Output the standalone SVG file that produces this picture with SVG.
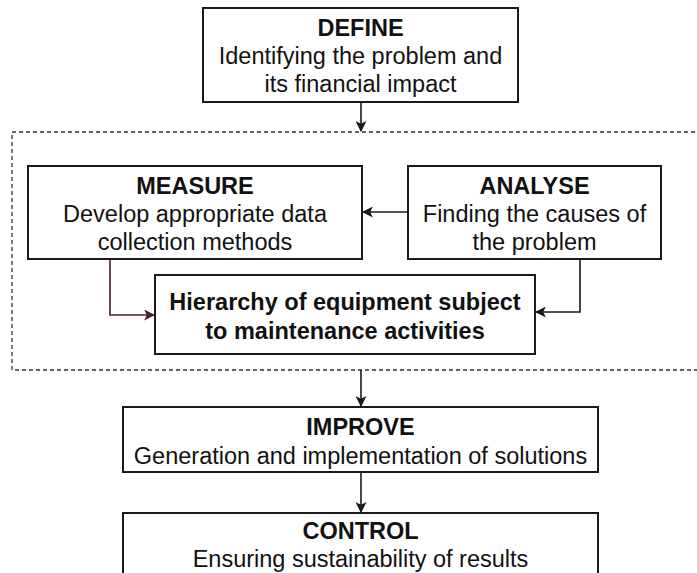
<svg xmlns="http://www.w3.org/2000/svg" width="697" height="573" viewBox="0 0 697 573">
  <style>
    .box { fill: #ffffff; stroke: #1a1a1a; stroke-width: 2; }
    .group { fill: none; stroke: #333333; stroke-width: 1.3; stroke-dasharray: 4 3; }
    .t { font-family: "Liberation Sans", Arial, sans-serif; font-size: 23.5px; fill: #111111; text-anchor: middle; }
    .b { font-weight: bold; }
    .edge { fill: none; stroke: #1a1a1a; stroke-width: 1.6; }
    .edge-alt { fill: none; stroke: #4a1d33; stroke-width: 1.6; }
  </style>
  <defs>
    <marker id="arrow" viewBox="0 0 10 10" refX="9" refY="5" markerWidth="11" markerHeight="11" markerUnits="userSpaceOnUse" orient="auto">
      <path d="M0,0 L10,5 L0,10 L2.5,5 z" fill="#1a1a1a"/>
    </marker>
    <marker id="arrow-alt" viewBox="0 0 10 10" refX="9" refY="5" markerWidth="11" markerHeight="11" markerUnits="userSpaceOnUse" orient="auto">
      <path d="M0,0 L10,5 L0,10 L2.5,5 z" fill="#4a1d33"/>
    </marker>
  </defs>

  <rect width="697" height="573" fill="#ffffff"/>

  <!-- dashed frame around Measure / Analyse -->
  <rect class="group" x="12" y="132" width="700" height="238"/>

  <g id="define">
    <rect class="box" x="203" y="8" width="315" height="94"/>
    <text class="t b" x="360.5" y="36">DEFINE</text>
    <text class="t" x="360.5" y="64">Identifying the problem and</text>
    <text class="t" x="360.5" y="92">its financial impact</text>
  </g>

  <g id="measure">
    <rect class="box" x="28" y="166" width="334" height="93"/>
    <text class="t b" x="195" y="194">MEASURE</text>
    <text class="t" x="195" y="222">Develop appropriate data</text>
    <text class="t" x="195" y="250">collection methods</text>
  </g>

  <g id="analyse">
    <rect class="box" x="408" y="166" width="253" height="93"/>
    <text class="t b" x="534.5" y="194">ANALYSE</text>
    <text class="t" x="534.5" y="222">Finding the causes of</text>
    <text class="t" x="534.5" y="250">the problem</text>
  </g>

  <g id="hierarchy">
    <rect class="box" x="155" y="275" width="380" height="79"/>
    <text class="t b" x="345" y="310">Hierarchy of equipment subject</text>
    <text class="t b" x="345" y="339">to maintenance activities</text>
  </g>

  <g id="improve">
    <rect class="box" x="123" y="407" width="475" height="65"/>
    <text class="t b" x="360.5" y="435">IMPROVE</text>
    <text class="t" x="360.5" y="464">Generation and implementation of solutions</text>
  </g>

  <g id="control">
    <rect class="box" x="123" y="513" width="475" height="70"/>
    <text class="t b" x="360.5" y="539">CONTROL</text>
    <text class="t" x="360.5" y="567">Ensuring sustainability of results</text>
  </g>

  <g id="connectors">
    <path class="edge" d="M361,102 V131" marker-end="url(#arrow)"/>
    <path class="edge" d="M408,212 H363" marker-end="url(#arrow)"/>
    <path class="edge-alt" d="M110,259 V315 H154" marker-end="url(#arrow-alt)"/>
    <path class="edge" d="M580,259 V312 H536" marker-end="url(#arrow)"/>
    <path class="edge" d="M361,370 V406" marker-end="url(#arrow)"/>
    <path class="edge" d="M361,472 V512" marker-end="url(#arrow)"/>
  </g>
</svg>
